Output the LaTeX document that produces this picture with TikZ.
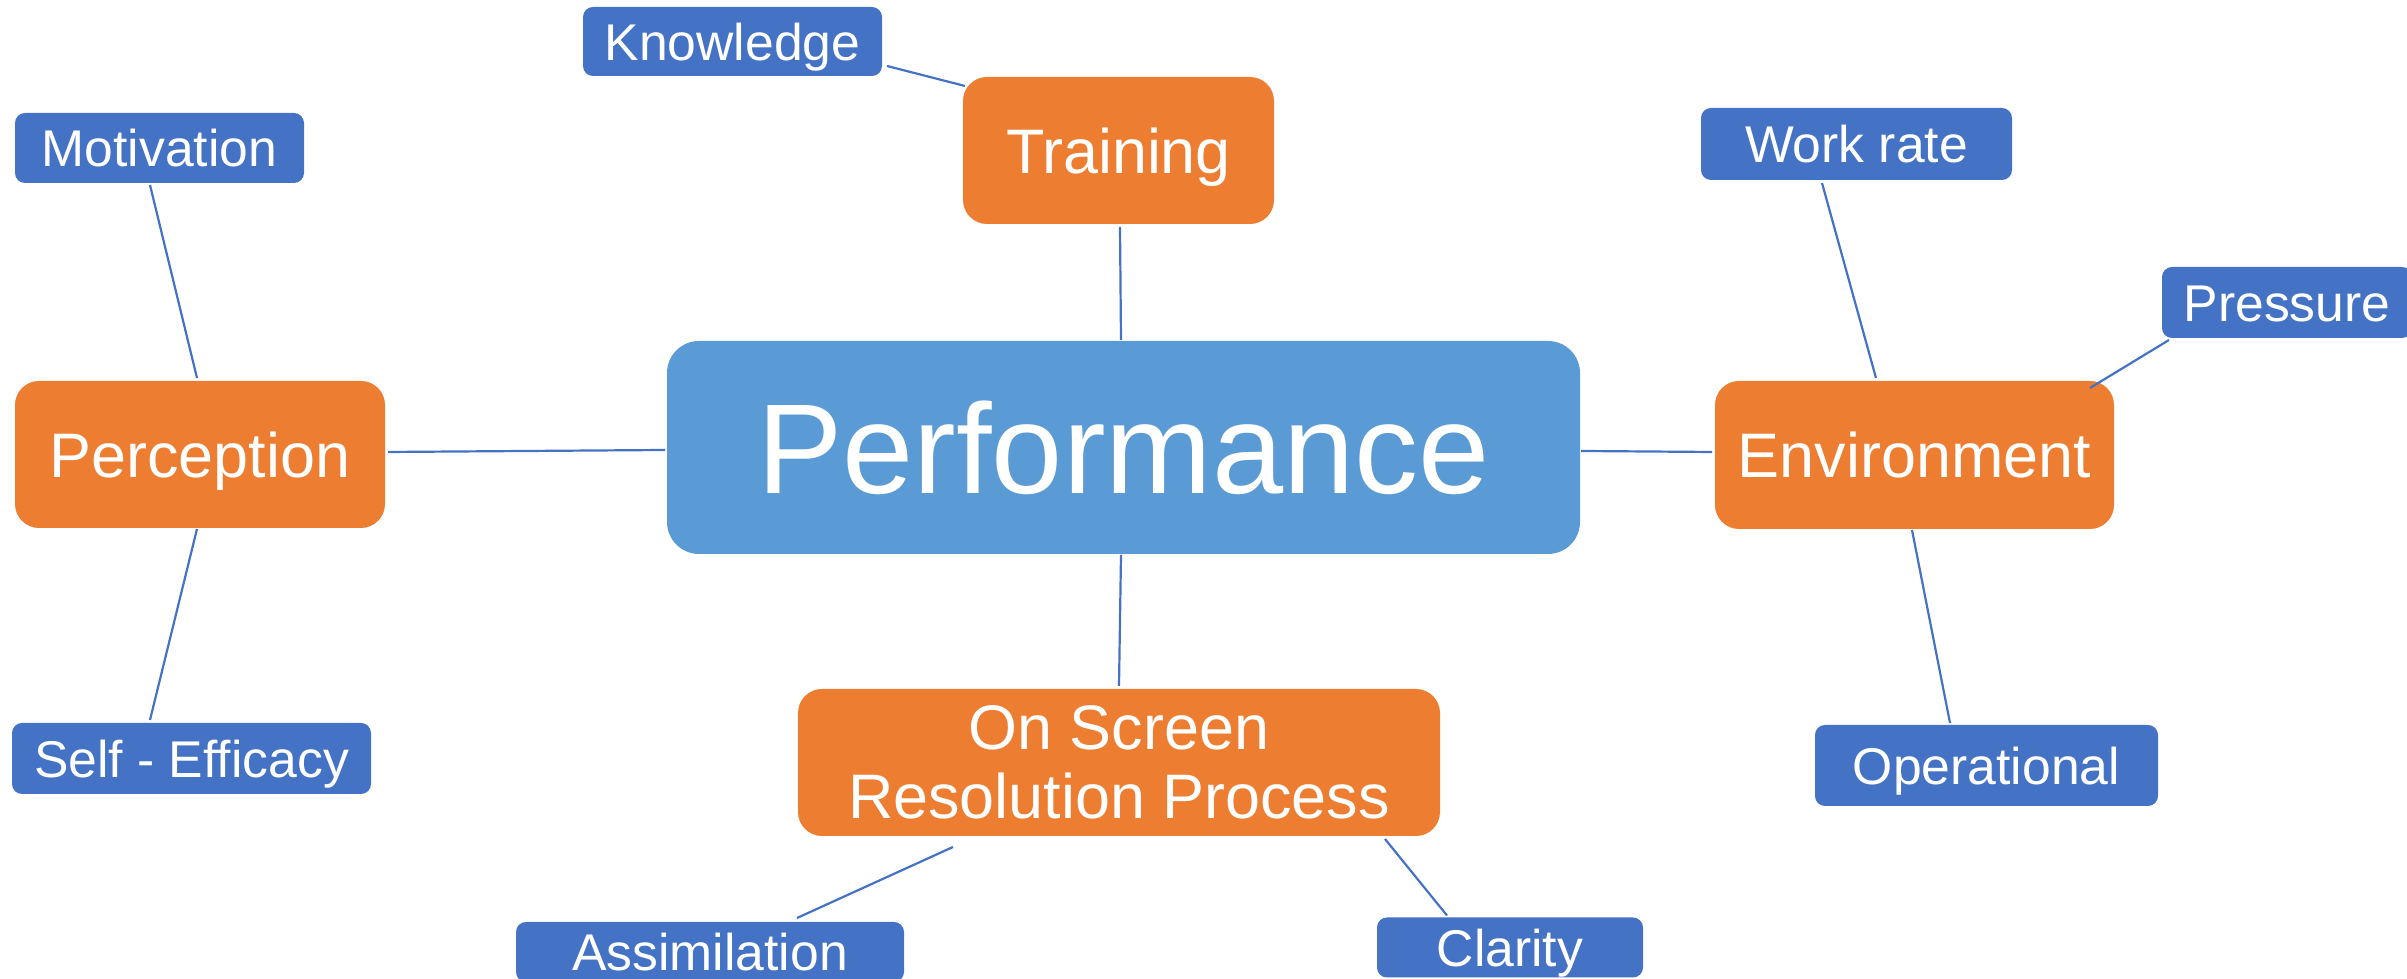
\documentclass[tikz,border=0pt]{standalone}
\usepackage{fontspec}
\setmainfont{Liberation Sans}
\usetikzlibrary{calc}
\definecolor{lblue}{HTML}{4472C4}
\definecolor{orng}{HTML}{ED7D31}
\definecolor{pblue}{HTML}{5B9BD5}
\definecolor{lnc}{HTML}{4472C4}
\begin{document}
\begin{tikzpicture}[x=0.1mm,y=-0.1mm,
  base/.style={text=white, inner sep=0pt, outer sep=0pt, anchor=center},
  leaf/.style={base, text height=10.7pt, text depth=0pt, fill=lblue, rounded corners=1mm, font=\fontsize{14.7}{17}\selectfont},
  midbox/.style={base, fill=orng, rounded corners=2.4mm, font=\fontsize{17.9}{19.6}\selectfont},
  midone/.style={midbox, text height=13pt, text depth=0pt},
  core/.style={base, text height=26.4pt, text depth=0pt, fill=pblue, rounded corners=3.2mm, font=\fontsize{36.4}{40}\selectfont},
  link/.style={draw=lnc, line width=0.22mm}]
\useasboundingbox (0,0) rectangle (2407,979);
\clip (0,0) rectangle (2407,979);

% central node
\node[core, minimum width=91.3mm, minimum height=21.3mm] (perf) at (1123.5,447.5) {Performance};

% orange nodes
\node[midone, minimum width=31.1mm, minimum height=14.7mm] (train) at (1118.5,150.5) {Training};
\node[midone, minimum width=37mm, minimum height=14.7mm] (perc) at (200,454.5) {Perception};
\node[midone, minimum width=39.9mm, minimum height=14.8mm] (env) at (1914.5,455) {Environment};
\node[midbox, align=center, minimum width=64.2mm, minimum height=14.7mm] (onscr) at (1119,762.5) {On Screen\\Resolution Process};

% blue leaves
\node[leaf, minimum width=29.9mm, minimum height=6.9mm] (know) at (732.5,41.5) {Knowledge};
\node[leaf, minimum width=28.9mm, minimum height=7mm] (mot) at (159.5,148) {Motivation};
\node[leaf, minimum width=35.9mm, minimum height=7.1mm] (self) at (191.5,758.5) {Self - Efficacy};
\node[leaf, minimum width=31.1mm, minimum height=7.2mm] (work) at (1856.5,144) {Work rate};
\node[leaf, minimum width=25mm, minimum height=7.1mm] (press) at (2287,302.5) {Pressure};
\node[leaf, minimum width=34.3mm, minimum height=8.1mm] (oper) at (1986.5,765.5) {Operational};
\node[leaf, minimum width=26.6mm, minimum height=6mm] (clar) at (1510,947.5) {Clarity};
\node[leaf, minimum width=38.8mm, minimum height=6mm] (assim) at (710,952) {Assimilation};

% connectors
\draw[link] ($(know.east)+(5,24.5)$) -- ($(train.north west)+(2,9)$);
\draw[link] ($(train.south)+(1.5,3)$) -- ($(perf.north)+(-2.5,-1)$);
\draw[link] ($(mot.south)+(-9.5,2)$) -- ($(perc.north)+(-3,-3)$);
\draw[link] ($(perc.south)+(-3,1)$) -- ($(self.north)+(-41.5,-3)$);
\draw[link] ($(perc.east)+(3,-2.5)$) -- ($(perf.west)+(-2,2.5)$);
\draw[link] ($(perf.east)+(1,3.5)$) -- ($(env.west)+(-3,-3)$);
\draw[link] ($(perf.south)+(-2.5,1)$) -- ($(onscr.north)+(0,-3)$);
\draw[link] ($(onscr.south)+(-166,11)$) -- ($(assim.north)+(87,-4)$);
\draw[link] ($(onscr.south)+(266,3)$) -- ($(clar.north)+(-63,-2)$);
\draw[link] ($(work.south)+(-34.5,3)$) -- ($(env.north)+(-38.5,-3)$);
\draw[link] ($(press.south west)+(7,2)$) -- ($(env.north east)+(-24,7)$);
\draw[link] ($(env.south)+(-2.5,1)$) -- ($(oper.north)+(-36.5,-2)$);
\end{tikzpicture}
\end{document}
